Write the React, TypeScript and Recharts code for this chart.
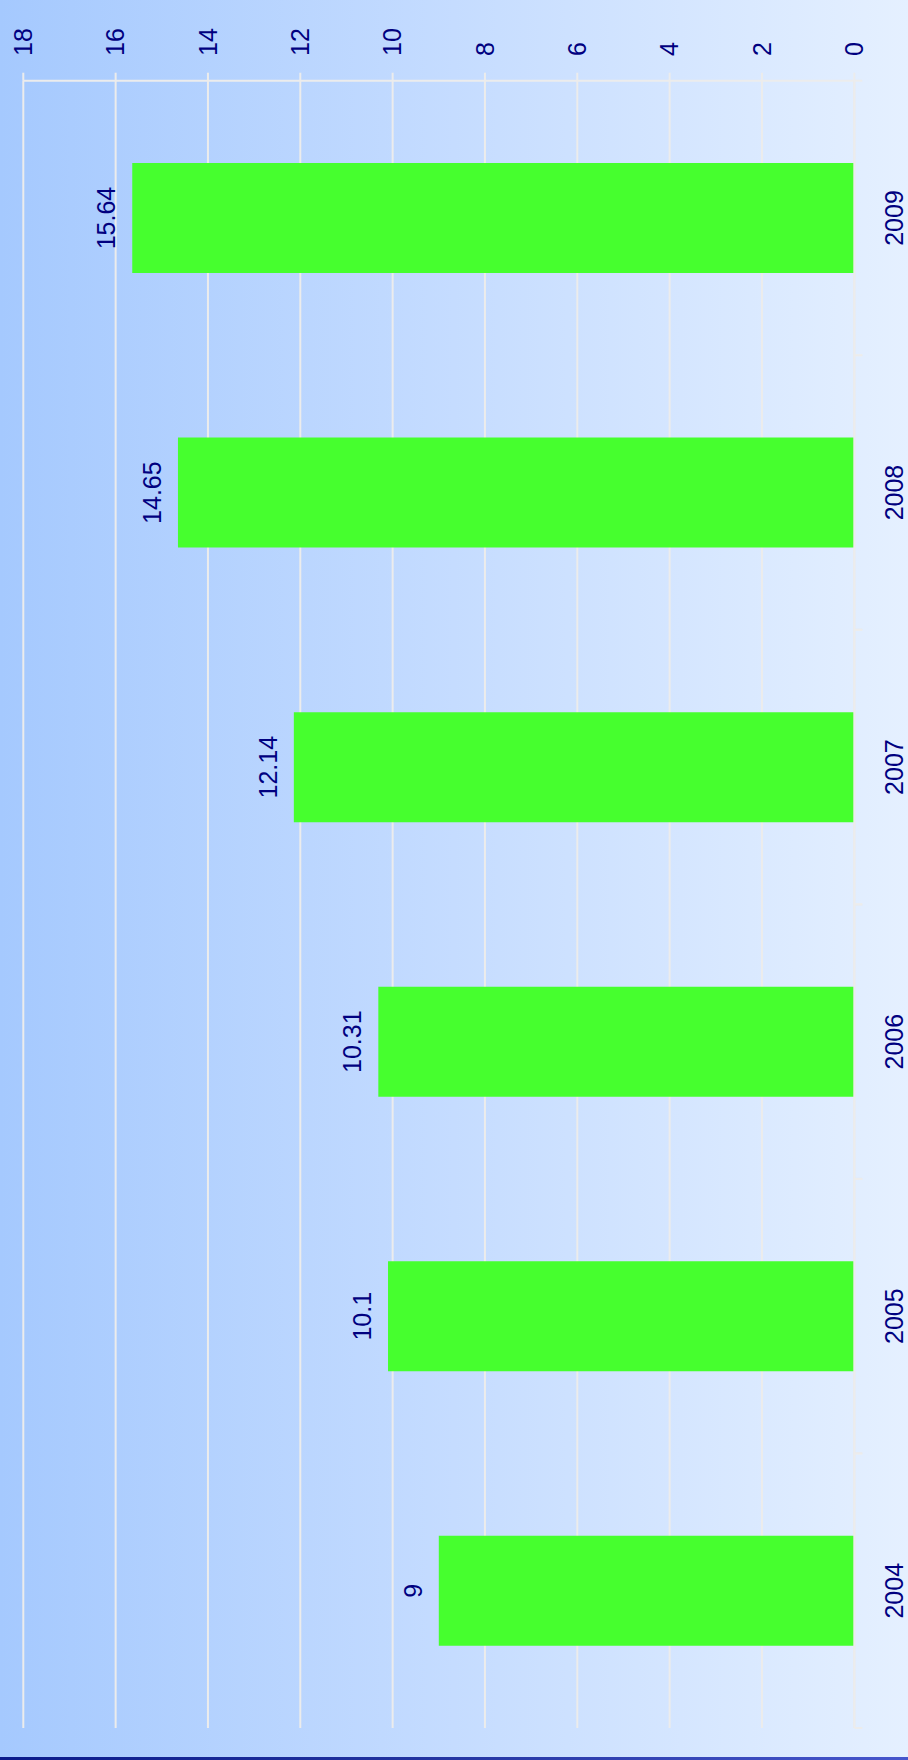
import { BarChart, Bar, XAxis, YAxis, CartesianGrid, LabelList } from 'recharts'

const years = ['2004', '2005', '2006', '2007', '2008', '2009']
const values = [9, 10.1, 10.31, 12.14, 14.65, 15.64]
const valueTicks = [0, 2, 4, 6, 8, 10, 12, 14, 16, 18]

const data = years.map((year, i) => ({ year, value: values[i] }))

const FONT = '"Liberation Sans", Arial, sans-serif'
const TEXT = '#000080'
const LINE = '#ececec'
const TICK = 8
const YEAR_MARGIN = 40.5

// chart is drawn sideways: text reads bottom-to-top
const ValueTick = ({ x, y, payload }: any) => (
  <text
    x={x}
    y={y}
    dy="0.35em"
    transform={`rotate(-90 ${x} ${y})`}
    textAnchor="start"
    fill={TEXT}
    fontSize={25}
    fontFamily={FONT}
  >
    {payload.value}
  </text>
)

const YearTick = ({ x, y, payload }: any) => {
  const half = payload.offset || 137.3
  const axisX = x - TICK - YEAR_MARGIN
  return (
    <g>
      <line x1={axisX} x2={axisX + TICK} y1={y - half} y2={y - half} stroke={LINE} strokeWidth={2} />
      <line x1={axisX} x2={axisX + TICK} y1={y + half} y2={y + half} stroke={LINE} strokeWidth={2} />
      <text
        x={x}
        y={y}
        transform={`rotate(-90 ${x} ${y})`}
        textAnchor="middle"
        fill={TEXT}
        fontSize={25}
        fontFamily={FONT}
      >
        {payload.value}
      </text>
    </g>
  )
}

const BarValue = (props: any) => {
  const x = Number(props.x)
  const w = Number(props.width)
  const lx = Math.min(x, x + w) - 17
  const cy = Number(props.y) + Number(props.height) / 2
  return (
    <text
      x={lx}
      y={cy}
      transform={`rotate(-90 ${lx} ${cy})`}
      textAnchor="middle"
      fill={TEXT}
      fontSize={25}
      fontFamily={FONT}
    >
      {props.value}
    </text>
  )
}

export default function App() {
  return (
    <div
      style={{
        position: 'absolute',
        top: 0,
        left: 0,
        width: 908,
        height: 1760,
        overflow: 'hidden',
        background: 'linear-gradient(to right, #a5c9fe 0%, #c5dcff 50%, #e5f0ff 100%)',
      }}
    >
      <BarChart
        width={908}
        height={1760}
        data={data}
        layout="vertical"
        barCategoryGap="30%"
        margin={{ top: 0, right: 0, bottom: 32, left: 23.3 }}
      >
        <CartesianGrid horizontal={false} stroke={LINE} strokeWidth={2} />
        <XAxis
          type="number"
          orientation="top"
          reversed
          domain={[0, 18]}
          ticks={valueTicks}
          interval={0}
          height={80.7}
          tickSize={TICK}
          tickMargin={16.7}
          axisLine={{ stroke: LINE, strokeWidth: 2 }}
          tickLine={{ stroke: LINE, strokeWidth: 2 }}
          tick={<ValueTick />}
        />
        <YAxis
          type="category"
          dataKey="year"
          orientation="right"
          reversed
          width={53.7}
          interval={0}
          tickSize={TICK}
          tickMargin={YEAR_MARGIN}
          axisLine={{ stroke: LINE, strokeWidth: 2 }}
          tickLine={false}
          tick={<YearTick />}
        />
        <Bar dataKey="value" fill="#46ff2e" isAnimationActive={false}>
          <LabelList dataKey="value" content={<BarValue />} />
        </Bar>
      </BarChart>
      <div
        style={{
          position: 'absolute',
          left: 0,
          bottom: 0,
          width: 908,
          height: 3,
          background: 'linear-gradient(to right, #0b1b8b 0%, #22339f 45%, #4656cc 100%)',
        }}
      />
    </div>
  )
}
